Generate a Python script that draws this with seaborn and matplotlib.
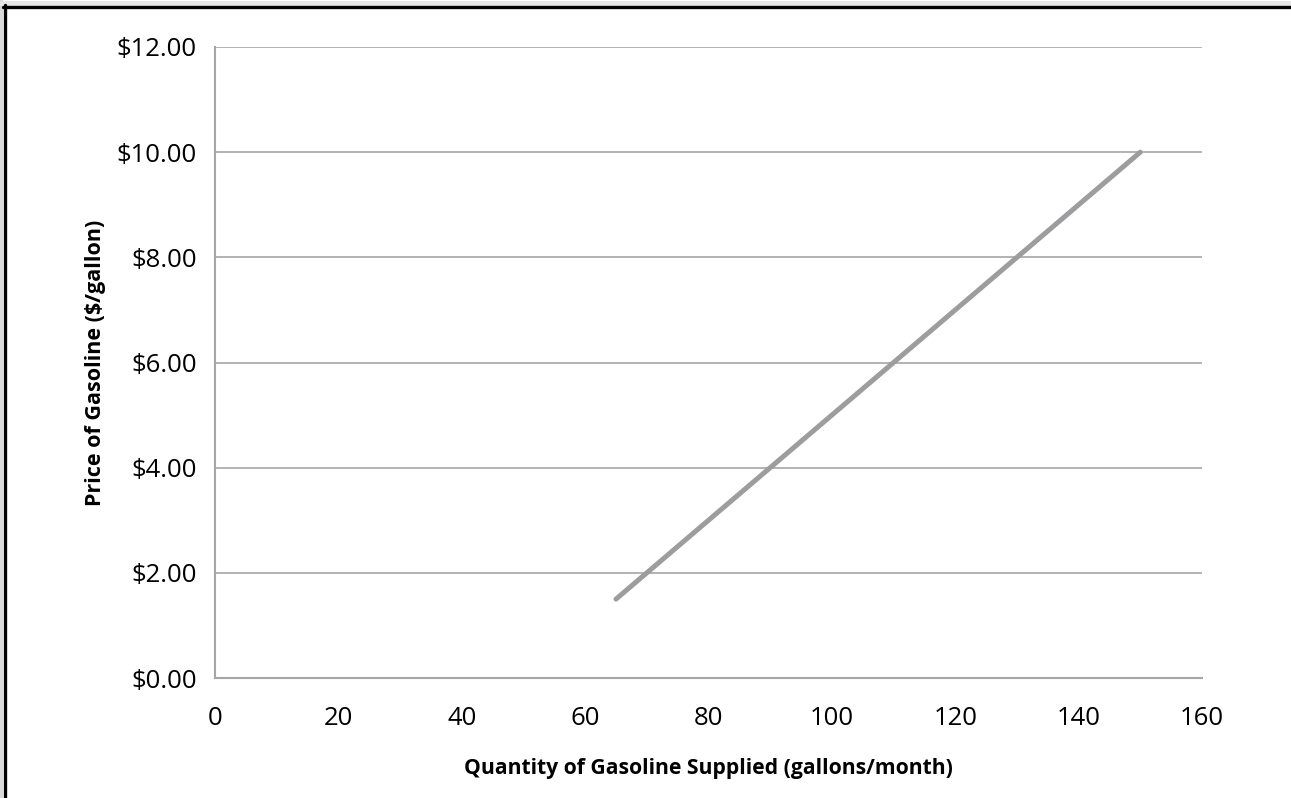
import matplotlib
matplotlib.use("Agg")
import matplotlib.pyplot as plt
import matplotlib.ticker as mticker
from matplotlib.lines import Line2D
import seaborn as sns
import pandas as pd

# supply curve data
quantity = [65, 70, 80, 90, 100, 110, 120, 130, 140, 150]
price = [1.5, 2.0, 3.0, 4.0, 5.0, 6.0, 7.0, 8.0, 9.0, 10.0]
x_ticks = [0, 20, 40, 60, 80, 100, 120, 140, 160]
y_ticks = [0, 2, 4, 6, 8, 10, 12]

df = pd.DataFrame({"quantity": quantity, "price": price})

sns.set_style("white")
plt.rcParams['font.family'] = ['Open Sans', 'DejaVu Sans']

fig = plt.figure(figsize=(12.91, 7.98), dpi=100)
ax = fig.add_axes([215 / 1291, 1 - 678 / 798, (1202 - 215) / 1291, (678 - 47) / 798])

grid_col = "#a6a6a6"
sns.lineplot(data=df, x="quantity", y="price", ax=ax, color="#9d9d9f",
             linewidth=3.6, solid_capstyle="round")

ax.set_xlim(0, 160)
ax.set_ylim(0, 12)
ax.set_xticks(x_ticks)
ax.set_yticks(y_ticks)
ax.yaxis.set_major_formatter(mticker.FuncFormatter(lambda v, p: f"${v:.2f}"))
ax.grid(axis="y", color=grid_col, linewidth=1.2)
ax.set_axisbelow(True)

for s in ["top", "right"]:
    ax.spines[s].set_visible(False)
for s in ["left", "bottom"]:
    ax.spines[s].set_color(grid_col)
    ax.spines[s].set_linewidth(1.5)

ax.tick_params(axis="both", which="major", direction="out", length=5, width=1.5,
               color=grid_col, labelsize=18.5, labelcolor="black")
ax.tick_params(axis="x", pad=15.5)
ax.tick_params(axis="y", pad=8)

ax.set_xlabel("Quantity of Gasoline Supplied (gallons/month)", fontsize=15.2,
              fontweight="bold", labelpad=19, color="black")
ax.set_ylabel("Price of Gasoline ($/gallon)", fontsize=15.5, fontweight="bold",
              labelpad=7.5, color="black")

# outer frame: gray margin + black border on top/left
fig.add_artist(Line2D([1.5 / 1291, 1.5 / 1291], [0, 1], transform=fig.transFigure,
                      color="#d9d9d9", linewidth=2.2))
fig.add_artist(Line2D([0, 1], [1 - 2.5 / 798, 1 - 2.5 / 798], transform=fig.transFigure,
                      color="#e6e6e6", linewidth=3.6))
fig.add_artist(Line2D([4.5 / 1291, 4.5 / 1291], [0, 1 - 5 / 798], transform=fig.transFigure,
                      color="black", linewidth=2.4))
fig.add_artist(Line2D([3 / 1291, 1], [1 - 6.5 / 798, 1 - 6.5 / 798], transform=fig.transFigure,
                      color="black", linewidth=2.4))

fig.savefig("out.png", dpi=100)
